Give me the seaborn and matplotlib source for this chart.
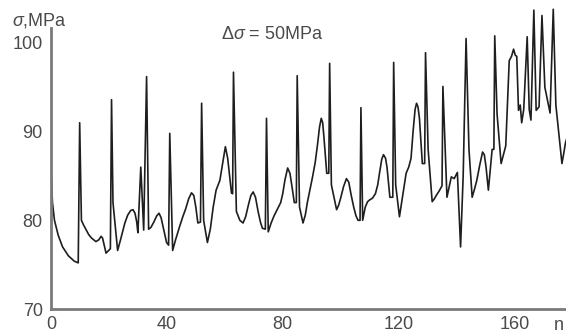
import pandas as pd
import matplotlib
matplotlib.use("Agg")
import matplotlib.pyplot as plt
import seaborn as sns

# cycle number n and stress sigma (MPa)
n_vals = [0, 0.5, 1.2, 2.5, 4, 6, 8, 9.4, 9.9, 10.5, 11.2, 12, 13, 14, 15.5, 16.5,
          17.3, 17.8, 18.5, 19, 20.5,
          20.9, 21.4, 23, 24, 25.5, 26.5, 27.5, 28.3, 29, 29.6, 30,
          31, 32, 33, 33.7, 34.5, 35.5, 36.5, 37.3, 38, 39, 39.9, 40.6,
          41, 42, 43, 44.5, 45.5, 46.5, 47.5, 48.5, 49.3, 50, 50.7, 51.6,
          52, 52.7, 54, 55, 56, 57, 58.3, 59.3, 60.2, 61, 62.3, 62.7,
          63, 64, 65.2, 66.3, 67.2, 68.2, 69, 69.8, 70.6, 71.5, 72.3, 73, 74.0,
          74.4, 75, 76, 77, 78.4, 79.3, 80, 80.8, 81.7, 82.5, 83.2, 84, 84.7,
          85, 85.8, 87, 87.8, 88.5, 89.5, 90.3, 91.2, 92, 92.7, 93.3, 93.8, 94.2, 95.2, 95.9,
          96.2, 96.8, 98.6, 99.3, 100, 101, 102, 102.8, 103.6, 104.5, 105.3, 106, 106.7,
          107, 107.6, 108.5, 109.3, 110, 111, 112, 112.8, 113.5, 114.2, 114.8, 115.5, 116, 117, 118.0,
          118.3, 119, 120.3, 121.5, 122.6, 123.5, 124.3, 125, 125.7, 126.2, 126.7, 127.2, 128.2, 129.0,
          129.3, 130.2, 131.6, 132.3, 133, 134, 134.8, 135.0,
          135.3, 136.7, 138.2, 139.2, 140.3, 141.4, 142.3, 143.3,
          144.3, 145.4, 146.2, 147, 148, 149, 149.6, 150.2, 151, 152.3, 152.9, 153.2, 154, 155.4,
          156.3, 157, 158.2, 159, 159.7, 160.3, 160.8, 161.4, 162, 162.5, 163.2, 164.4, 165.1,
          165.7, 166.7, 167.5, 168.5, 169.5, 170.5, 172.3, 173.4, 174.3, 176.4,
          177, 177.6, 178.3]
sigma_vals = [85.7, 82.0, 80.0, 78.3, 77.0, 76.0, 75.4, 75.2, 91.0, 80.0, 79.5, 79.0, 78.4, 78.0, 77.6, 77.8,
              78.2, 78.0, 77.0, 76.3, 76.8,
              93.6, 82.0, 76.6, 77.8, 79.7, 80.6, 81.1, 81.2, 80.8, 79.8, 78.6,
              86.0, 78.9, 96.2, 79.0, 79.2, 79.8, 80.5, 80.8, 80.3, 78.8, 77.5, 77.2,
              89.8, 76.6, 77.8, 79.4, 80.4, 81.3, 82.4, 83.1, 82.8, 81.5, 79.7, 79.8,
              93.2, 80.0, 77.5, 79.0, 81.5, 83.4, 84.5, 86.5, 88.3, 87.0, 83.1, 83.0,
              96.7, 81.0, 80.0, 79.7, 80.4, 81.8, 82.8, 83.2, 82.6, 81.0, 79.8, 79.1, 79.0,
              91.5, 78.7, 79.7, 80.5, 81.4, 82.0, 83.0, 84.6, 85.9, 85.3, 83.8, 82.0, 82.0,
              96.3, 81.5, 79.7, 80.6, 82.0, 83.6, 84.9, 86.5, 88.5, 90.5, 91.5, 91.0, 89.5, 85.3, 85.3,
              97.7, 84.0, 81.2, 81.7, 82.5, 83.8, 84.7, 84.3, 82.9, 81.5, 80.5, 80.0, 80.0,
              92.7, 80.0, 81.5, 82.1, 82.3, 82.5, 83.0, 84.0, 85.5, 86.9, 87.4, 87.0, 86.0, 82.6, 82.6,
              97.8, 84.0, 80.4, 83.0, 85.3, 86.0, 87.0, 90.0, 92.5, 93.2, 92.8, 91.5, 86.4, 86.4,
              98.9, 88.0, 82.1, 82.4, 82.8, 83.3, 83.8, 83.9,
              95.1, 82.6, 84.9, 84.7, 85.4, 77.0, 85.0, 100.5,
              88.0, 82.6, 83.5, 84.5, 86.2, 87.7, 87.4, 86.0, 83.4, 88.0, 88.0, 100.8, 92.0, 86.4,
              87.5, 88.4, 98.0, 98.5, 99.3, 98.6, 98.5, 92.4, 93.0, 91.0, 92.5, 100.7, 92.5,
              91.3, 103.7, 92.4, 92.8, 103.1, 95.0, 92.1, 103.8, 93.0, 86.4,
              87.5, 88.7, 89.5]
y_ticks = [70, 80, 90, 100]
x_ticks = [0, 40, 80, 120, 160]

df = pd.DataFrame({"n": n_vals, "sigma": sigma_vals})

sns.set_style("white")
plt.rcParams["font.family"] = ["Liberation Sans", "DejaVu Sans"]
plt.rcParams["mathtext.fontset"] = "custom"
plt.rcParams["mathtext.rm"] = "Liberation Sans"
plt.rcParams["mathtext.it"] = "Liberation Sans:italic"

txt = "#4a4a4a"
fig = plt.figure(figsize=(5.66, 3.34), dpi=100)
ax = fig.add_axes([51 / 566, 25 / 334, 1 - 51 / 566, 303.3 / 334])

sns.lineplot(data=df, x="n", y="sigma", ax=ax, color="#1e1e1e", linewidth=1.2,
             estimator=None, sort=False)

ax.set_xlim(0, 177.8)
ax.set_ylim(70, 104.2)
ax.set_xticks(x_ticks)
ax.set_yticks(y_ticks)
ax.set_xlabel("")
ax.set_ylabel("")

for side in ["top", "right"]:
    ax.spines[side].set_visible(False)
for side in ["left", "bottom"]:
    ax.spines[side].set_color("#7a7a7a")
    ax.spines[side].set_linewidth(2)
ax.spines["left"].set_bounds(70, 101.7)

ax.tick_params(axis="y", direction="in", length=5, width=1.2, color="#666666",
               labelsize=13, labelcolor=txt, pad=6)
ax.tick_params(axis="x", direction="in", length=2, width=1.5, color="#555555",
               labelsize=13, labelcolor=txt, pad=5)

fig.text(12 / 566, 1 - 25 / 334, r"$\sigma$,MPa", fontsize=13, color=txt,
         ha="left", va="baseline")
fig.text(272 / 566, 1 - 39 / 334, r"$\Delta\sigma$ = 50MPa", fontsize=13, color=txt,
         ha="center", va="baseline")
fig.text(554 / 566, 1 - 330 / 334, "n", fontsize=13, color=txt,
         ha="left", va="baseline")

fig.savefig("out.png", dpi=100)
